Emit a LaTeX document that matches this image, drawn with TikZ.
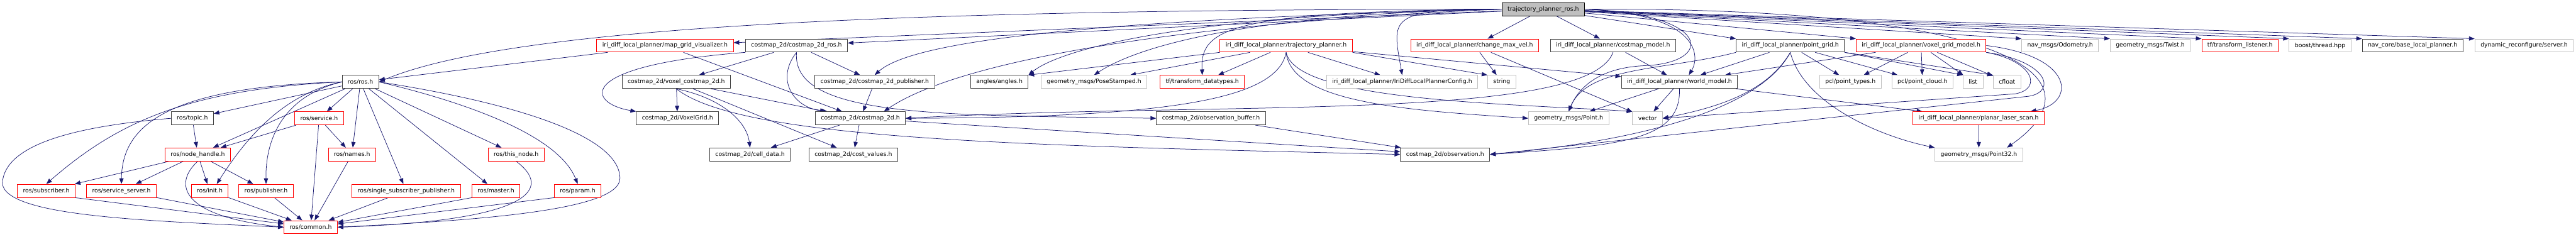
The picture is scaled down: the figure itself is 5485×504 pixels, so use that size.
\documentclass[tikz,border=0pt]{standalone}
\usepackage{fontspec}
\setmainfont{DejaVu Sans}
\usepackage{xcolor}
\usepackage{tikz}
\usetikzlibrary{arrows.meta,backgrounds}
\definecolor{Dedge}{HTML}{191970}
\definecolor{Dred}{HTML}{FF0000}
\definecolor{Dgray}{HTML}{BFBFBF}
\definecolor{Dblack}{HTML}{404040}

\begin{document}
\begin{tikzpicture}[
  x=1pt, y=-1pt, >={Triangle[length=12pt,width=9pt]},
  hbox/.style={draw=Dblack, line width=1.2pt, fill=white, minimum height=28pt,
               inner xsep=12pt, inner ysep=0pt, font=\fontsize{12.5}{15}\selectfont},
  hred/.style={hbox, draw=Dred},
  hext/.style={hbox, draw=Dgray},
  hroot/.style={hbox, draw=black, fill=Dgray},
  dep/.style={->, Dedge, line width=1pt},
]
\useasboundingbox (0,0) rectangle (5485,504);

% ── root ─────────────────────────────────────────────────────────────
\node[hroot] (root) at (3286,19.5) {trajectory\_planner\_ros.h};

% ── row 1: direct includes ───────────────────────────────────────────
\node[hred] (mapgrid) at (1416,97) {iri\_diff\_local\_planner/map\_grid\_visualizer.h};
\node[hbox] (cmros)   at (1696,97) {costmap\_2d/costmap\_2d\_ros.h};
\node[hred] (trajpl)  at (2738.5,97) {iri\_diff\_local\_planner/trajectory\_planner.h};
\node[hred] (chmax)   at (3140,97) {iri\_diff\_local\_planner/change\_max\_vel.h};
\node[hbox] (cmmodel) at (3434.5,97) {iri\_diff\_local\_planner/costmap\_model.h};
\node[hbox] (ptgrid)  at (3812,97) {iri\_diff\_local\_planner/point\_grid.h};
\node[hred] (vxgrid)  at (4090.5,97) {iri\_diff\_local\_planner/voxel\_grid\_model.h};
\node[hext] (odom)    at (4386.5,97) {nav\_msgs/Odometry.h};
\node[hext] (twist)   at (4578.5,97) {geometry\_msgs/Twist.h};
\node[hred] (tflist)  at (4769.5,97) {tf/transform\_listener.h};
\node[hext] (bthread) at (4940,97) {boost/thread.hpp};
\node[hbox] (navcore) at (5137,97) {nav\_core/base\_local\_planner.h};
\node[hext] (dynrec)  at (5374.5,97) {dynamic\_reconfigure/server.h};

% ── row 2 ────────────────────────────────────────────────────────────
\node[hbox] (rosh)   at (767.5,174.5) {ros/ros.h};
\node[hbox] (vxcm)   at (1440,174.5) {costmap\_2d/voxel\_costmap\_2d.h};
\node[hbox] (cmpub)  at (1862.5,174.5) {costmap\_2d/costmap\_2d\_publisher.h};
\node[hbox] (angles) at (2128,174.5) {angles/angles.h};
\node[hext] (pose)   at (2329.5,174.5) {geometry\_msgs/PoseStamped.h};
\node[hred] (tfdt)   at (2560,174.5) {tf/transform\_datatypes.h};
\node[hext] (config) at (2985.5,174.5) {iri\_diff\_local\_planner/IriDiffLocalPlannerConfig.h};
\node[hext] (string) at (3197.5,174.5) {string};
\node[hbox] (world)  at (3576,174.5) {iri\_diff\_local\_planner/world\_model.h};
\node[hext] (ptypes) at (3940,174.5) {pcl/point\_types.h};
\node[hext] (pcloud) at (4093.5,174.5) {pcl/point\_cloud.h};
\node[hext] (list)   at (4201,174.5) {list};
\node[hext] (cfloat) at (4273.5,174.5) {cfloat};

% ── row 3 ────────────────────────────────────────────────────────────
\node[hbox] (topic)   at (409.5,252) {ros/topic.h};
\node[hred] (service) at (679.5,252) {ros/service.h};
\node[hbox] (vxgridh) at (1442.5,252) {costmap\_2d/VoxelGrid.h};
\node[hbox] (cm2d)    at (1832,252) {costmap\_2d/costmap\_2d.h};
\node[hbox] (obsbuf)  at (2578.5,252) {costmap\_2d/observation\_buffer.h};
\node[hext] (point)   at (3340,252) {geometry\_msgs/Point.h};
\node[hext] (vector)  at (3508,252) {vector};
\node[hred] (laser)   at (4213,252) {iri\_diff\_local\_planner/planar\_laser\_scan.h};

% ── row 4 ────────────────────────────────────────────────────────────
\node[hred] (nh)       at (421,329) {ros/node\_handle.h};
\node[hred] (names)    at (749.5,329) {ros/names.h};
\node[hred] (thisnode) at (1099,329) {ros/this\_node.h};
\node[hbox] (celldata) at (1597,329) {costmap\_2d/cell\_data.h};
\node[hbox] (costval)  at (1817,329) {costmap\_2d/cost\_values.h};
\node[hbox] (obs)      at (3077,329) {costmap\_2d/observation.h};
\node[hext] (point32)  at (4213.5,329) {geometry\_msgs/Point32.h};

% ── row 5 / 6 ────────────────────────────────────────────────────────
\node[hred] (sub)    at (98.5,406.5) {ros/subscriber.h};
\node[hred] (srvsrv) at (258.5,406.5) {ros/service\_server.h};
\node[hred] (init)   at (446.5,406.5) {ros/init.h};
\node[hred] (pub)    at (566.5,406.5) {ros/publisher.h};
\node[hred] (ssp)    at (865,406.5) {ros/single\_subscriber\_publisher.h};
\node[hred] (master) at (1056,406.5) {ros/master.h};
\node[hred] (param)  at (1230,406.5) {ros/param.h};
\node[hred] (common) at (661.5,484) {ros/common.h};

\begin{scope}[on background layer]
% root
\draw[dep] (root.west) .. controls (2000,20) and (1100,50) .. (rosh.east);
\draw[dep] (root) -- (mapgrid);
\draw[dep] (root) -- (cmros);
\draw[dep] (root.west) .. controls (2400,40) and (1950,80) .. (cmpub.north);
\draw[dep] (root.west) .. controls (2500,50) and (2040,130) .. ([xshift=50pt]cm2d.north);
\draw[dep] (root.west) .. controls (2500,30) and (2250,110) .. (angles.north east);
\draw[dep] (root.west) .. controls (2650,30) and (2420,100) .. (pose.north);
\draw[dep] (root.west) .. controls (2620,25) and (2555,60) .. (tfdt.north);
\draw[dep] (root.west) .. controls (2950,19) and (2965,40) .. (config.north);
\draw[dep] (root) -- (chmax);
\draw[dep] (root) -- (cmmodel);
\draw[dep] (root.east) .. controls (3620,30) and (3620,120) .. ([xshift=20pt]world.north);
\draw[dep] (root.east) .. controls (3650,30) and (3650,135) .. (3500,140)
  .. controls (3400,145) and (3360,190) .. (point.north);
\draw[dep] (root) -- (ptgrid.north west);
\draw[dep] (root) -- (vxgrid.north west);
\draw[dep] (root) -- (odom.north west);
\draw[dep] (root) -- (twist.north west);
\draw[dep] (root) -- (tflist.north west);
\draw[dep] (root) -- (bthread.north west);
\draw[dep] (root) -- (navcore.north west);
\draw[dep] (root) -- (dynrec.north west);
\draw[dep] (root.east) .. controls (4300,15) and (4480,170) .. ([xshift=60pt]point32.north);

% trajectory planner
\draw[dep] (trajpl.south west) -- (angles.north east);
\draw[dep] (trajpl) -- (pose);
\draw[dep] (trajpl) -- (tfdt);
\draw[dep] (trajpl) -- (config);
\draw[dep] (trajpl.south east) -- (string.north west);
\draw[dep] (trajpl) -- (world);
\draw[dep] (trajpl.south) .. controls (2720,210) and (2500,250) .. (cm2d.east);
\draw[dep] (trajpl.south) .. controls (2750,220) and (3000,235) .. (point.west);
\draw[dep] (trajpl.south) .. controls (2760,215) and (3200,220) .. (vector.north west);
\draw[dep] (chmax) -- (string);
\draw[dep] (chmax) -- (vector);

% costmap model, world model
\draw[dep] (cmmodel) -- (world);
\draw[dep] (cmmodel.south) .. controls (3380,260) and (2600,215) .. (cm2d.east);
\draw[dep] (world) -- (point);
\draw[dep] (world) -- (vector);
\draw[dep] (world.south) .. controls (3580,300) and (3450,310) .. (obs.east);
\draw[dep] (world) -- (laser);

% point grid
\draw[dep] (ptgrid) -- (world);
\draw[dep] (ptgrid.south west) .. controls (3550,150) and (3380,140) .. (point.north);
\draw[dep] (ptgrid.south) .. controls (3760,200) and (3650,230) .. (vector.east);
\draw[dep] (ptgrid.south) .. controls (3750,230) and (3500,300) .. (obs.east);
\draw[dep] (ptgrid.south) .. controls (3840,220) and (4000,290) .. (point32.north west);
\draw[dep] (ptgrid) -- (ptypes);
\draw[dep] (ptgrid) -- (pcloud);
\draw[dep] (ptgrid.south east) -- (list.north west);
\draw[dep] (ptgrid.south east) -- (cfloat.north west);

% voxel grid model
\draw[dep] (vxgrid) -- (world);
\draw[dep] (vxgrid) -- (ptypes);
\draw[dep] (vxgrid) -- (pcloud);
\draw[dep] (vxgrid) -- (list);
\draw[dep] (vxgrid) -- (cfloat);
\draw[dep] (vxgrid.east) .. controls (4420,120) and (4420,220) .. ([xshift=-30pt]laser.north east);
\draw[dep] (vxgrid.south east) .. controls (4330,130) and (4350,190) .. (4290,200) -- (vector.east);
\draw[dep] (vxgrid.south east) .. controls (4360,130) and (4380,195) .. (4320,205) -- (obs.east);
\draw[dep] (laser) -- (point32);

% costmap_2d
\draw[dep] (cmros) -- (vxcm);
\draw[dep] (cmros) -- (cmpub);
\draw[dep] (cmros.south west) .. controls (1220,140) and (1250,220) .. (vxgridh.north west);
\draw[dep] (cmros.south) .. controls (1650,170) and (1690,230) .. ([xshift=-70pt]cm2d.north);
\draw[dep] (cmros.south) .. controls (1685,250) and (2000,245) .. (obsbuf.west);
\draw[dep] (vxcm) -- (vxgridh);
\draw[dep] (vxcm.south) .. controls (1540,210) and (1590,260) .. (celldata.north);
\draw[dep] (vxcm) -- (cm2d);
\draw[dep] (vxcm) -- (costval);
\draw[dep] (vxcm.south) .. controls (1580,300) and (2200,310) .. (obs.west);
\draw[dep] (cmpub) -- (cm2d);
\draw[dep] (mapgrid) -- (rosh);
\draw[dep] (mapgrid) -- (cm2d);
\draw[dep] (cm2d) -- (celldata);
\draw[dep] (cm2d) -- (costval);
\draw[dep] (cm2d) -- (obs);
\draw[dep] (obsbuf) -- (obs);

% ros
\draw[dep] (rosh) -- (topic);
\draw[dep] (rosh) -- (nh);
\draw[dep] (rosh.west) .. controls (400,190) and (250,260) .. (sub.north);
\draw[dep] (rosh.west) .. controls (350,185) and (260,270) .. (srvsrv.north);
\draw[dep] (rosh.west) .. controls (600,200) and (520,300) .. ([xshift=15pt]init.north);
\draw[dep] (rosh.west) .. controls (600,205) and (565,300) .. (pub.north);
\draw[dep] (rosh) -- (service);
\draw[dep] (rosh) -- (names);
\draw[dep] (rosh) -- (ssp);
\draw[dep] (rosh) -- (thisnode);
\draw[dep] (rosh) -- (master);
\draw[dep] (rosh.east) .. controls (1000,220) and (1190,290) .. (param.north);
\draw[dep] (rosh.east) .. controls (1100,220) and (1320,290) .. (1320,380)
  .. controls (1320,450) and (1000,470) .. (common.east);
\draw[dep] (topic) -- (nh);
\draw[dep] (topic.west) .. controls (150,270) and (10,310) .. (5,390)
  .. controls (10,460) and (300,470) .. (common.west);
\draw[dep] (service) -- (nh);
\draw[dep] (service) -- (names);
\draw[dep] (service) -- (common);
\draw[dep] (nh) -- (sub);
\draw[dep] (nh) -- (srvsrv);
\draw[dep] (nh) -- (init);
\draw[dep] (nh) -- (pub);
\draw[dep] (nh.south) .. controls (370,390) and (380,460) .. (common.west);
\draw[dep] (names) -- (common);
\draw[dep] (thisnode.south) .. controls (1175,400) and (1140,470) .. (common.east);
\draw[dep] (sub.south east) -- (common);
\draw[dep] (srvsrv) -- (common);
\draw[dep] (init) -- (common);
\draw[dep] (pub) -- (common);
\draw[dep] (ssp) -- (common);
\draw[dep] (master.south west) -- (common);
\draw[dep] (param.south west) -- (common);
\end{scope}

\end{tikzpicture}
\end{document}
